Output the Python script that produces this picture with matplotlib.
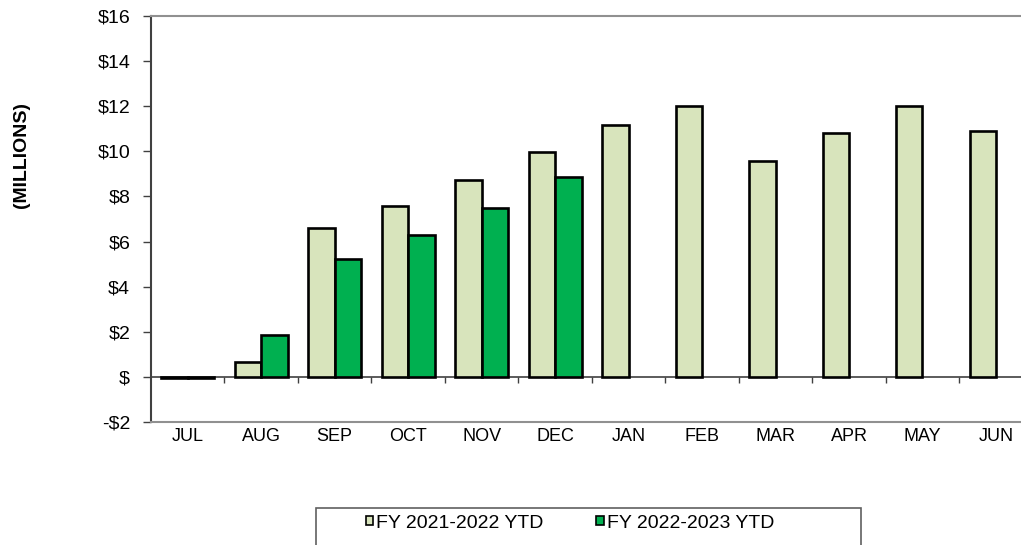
import matplotlib
matplotlib.use("Agg")
import matplotlib.pyplot as plt
import numpy as np
from matplotlib.patches import Patch, Rectangle
from matplotlib.ticker import FuncFormatter

months = ["JUL", "AUG", "SEP", "OCT", "NOV", "DEC", "JAN", "FEB", "MAR", "APR", "MAY", "JUN"]
fy_2122 = [-0.05, 0.66, 6.62, 7.59, 8.72, 9.96, 11.17, 12.03, 9.59, 10.83, 12.03, 10.92]
fy_2223 = [-0.05, 1.86, 5.22, 6.29, 7.48, 8.85]
series_names = ["FY 2021-2022 YTD", "FY 2022-2023 YTD"]
yticks = [-2, 0, 2, 4, 6, 8, 10, 12, 14, 16]

light = "#D8E4BC"
green = "#00B050"

plt.rcParams['font.family'] = ['Liberation Sans', 'DejaVu Sans']
plt.rcParams['font.size'] = 14

fig = plt.figure(figsize=(10.21, 5.45), dpi=100)
ax = fig.add_axes([151 / 1021, 1 - 422 / 545, 881.7 / 1021, 406 / 545])

x = np.arange(len(months))
w = 0.36
ax.bar(x - w / 2, fy_2122, w, color=light, edgecolor="black", linewidth=1.9, zorder=3)
ax.bar(x[:len(fy_2223)] + w / 2, fy_2223, w, color=green, edgecolor="black", linewidth=1.9, zorder=3)

ax.set_xlim(-0.5, len(months) - 0.5)
ax.set_ylim(-2, 16)
ax.set_yticks(yticks)
ax.yaxis.set_major_formatter(FuncFormatter(
    lambda v, p: "$" if v == 0 else ("-$%d" % -v if v < 0 else "$%d" % v)))
ax.tick_params(axis="y", direction="out", length=6, width=1, color="#404040", pad=9)
ax.set_xticks(x)
ax.set_xticklabels(months, fontsize=13)
ax.tick_params(axis="x", length=0, pad=4)

for s in ["top", "bottom"]:
    ax.spines[s].set_color("#909090")
    ax.spines[s].set_linewidth(1.5)
ax.spines["right"].set_visible(False)
ax.spines["left"].set_color("#404040")
ax.spines["left"].set_linewidth(1.5)

# category axis crossing at zero with ticks between months
sec = ax.secondary_xaxis(2 / 18)
sec.set_xticks(np.arange(0.5, len(months) - 0.5, 1.0))
sec.set_xticklabels([])
sec.tick_params(direction="out", length=4, width=1, color="#404040")
sec.spines["bottom"].set_color("#404040")
sec.spines["bottom"].set_linewidth(1.2)

fig.text(22 / 1021, 1 - 155 / 545, "(MILLIONS)", rotation=90, fontsize=14,
         fontweight="bold", ha="center", va="center")

handles = [Patch(facecolor=light, edgecolor="black", linewidth=1.2),
           Patch(facecolor=green, edgecolor="black", linewidth=1.2)]
fig.legend(handles, series_names, loc="center", bbox_to_anchor=(570 / 1021, 1 - 523 / 545),
           ncol=2, frameon=False, handlelength=0.4, handleheight=0.4,
           handletextpad=0.15, columnspacing=2.7, fontsize=14)
fig.patches.append(Rectangle((316 / 1021, -0.05), (861 - 316) / 1021, (545 - 508) / 545 + 0.05,
                             transform=fig.transFigure, fill=False,
                             edgecolor="#606060", linewidth=1.2))

fig.savefig("out.png", dpi=100)
